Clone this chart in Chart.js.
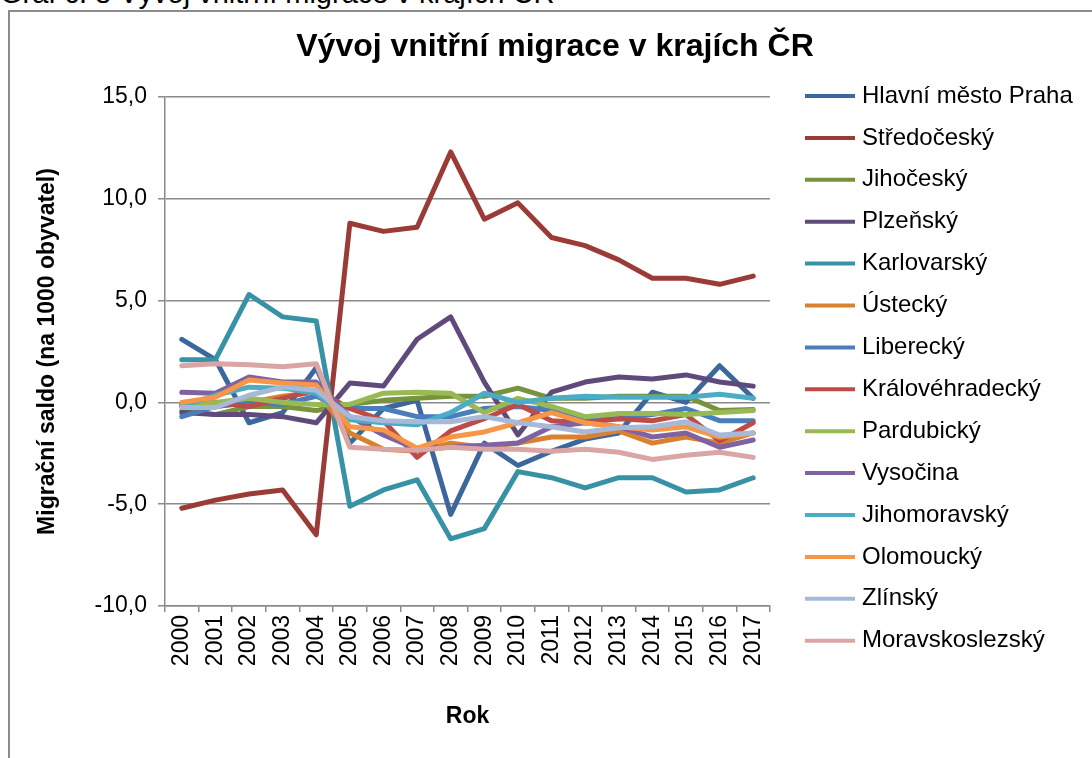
<!DOCTYPE html>
<html>
<head>
<meta charset="utf-8">
<script src="https://cdn.jsdelivr.net/npm/chart.js@4"></script>
<style>
  body { margin: 0; background: #fff; overflow: hidden; }
  #caption { position: absolute; left: 0; top: -23px; font: 29px "Liberation Sans", Arial, sans-serif; white-space: nowrap; }
  #frame { position: absolute; left: 8px; top: 10px; width: 2000px; height: 2000px; border-left: 2px solid #8c8c8c; border-top: 2px solid #8c8c8c; }
  #wrap { position: absolute; left: 0; top: 0; width: 1092px; height: 758px; }
</style>
</head>
<body>
<div id="caption">Graf č. 8 Vývoj vnitřní migrace v krajích ČR</div>
<div id="frame"></div>
<div id="wrap"><canvas id="canvas-migrace"></canvas></div>
<script>
const years = ['2000','2001','2002','2003','2004','2005','2006','2007','2008','2009','2010','2011','2012','2013','2014','2015','2016','2017'];

const regions = ['Hlavní město Praha', 'Středočeský', 'Jihočeský', 'Plzeňský', 'Karlovarský', 'Ústecký', 'Liberecký',
  'Královéhradecký', 'Pardubický', 'Vysočina', 'Jihomoravský', 'Olomoucký', 'Zlínský', 'Moravskoslezský'];

const praha = [3.1, 2.1, -1.0, -0.5, 1.7, -2.0, -0.3, 0.1, -5.5, -2.0, -3.1, -2.4, -1.8, -1.5, 0.5, 0.0, 1.8, 0.2];
const stredocesky = [-5.2, -4.8, -4.5, -4.3, -6.5, 8.8, 8.4, 8.6, 12.3, 9.0, 9.8, 8.1, 7.7, 7.0, 6.1, 6.1, 5.8, 6.2];
const jihocesky = [-0.4, -0.6, -0.2, -0.2, -0.4, -0.1, 0.1, 0.2, 0.3, 0.3, 0.7, 0.2, 0.2, 0.3, 0.3, 0.3, -0.4, -0.35];
const plzensky = [-0.5, -0.6, -0.6, -0.7, -1.0, 0.95, 0.8, 3.1, 4.2, 1.0, -1.6, 0.5, 1.0, 1.25, 1.15, 1.35, 1.0, 0.8];
const karlovarsky = [2.1, 2.1, 5.3, 4.2, 4.0, -5.1, -4.3, -3.8, -6.7, -6.2, -3.4, -3.7, -4.2, -3.7, -3.7, -4.4, -4.3, -3.7];
const ustecky = [-0.1, -0.2, 0.0, 0.3, 0.5, -1.5, -2.3, -2.4, -2.0, -2.2, -2.0, -1.7, -1.7, -1.4, -2.0, -1.7, -2.0, -1.5];
const liberecky = [-0.7, -0.2, 0.0, -0.1, 0.3, -0.3, -0.3, -0.7, -0.7, -0.3, -0.2, -0.4, -0.8, -0.8, -0.6, -0.3, -0.9, -0.9];
const kralovehradecky = [-0.1, 0.0, -0.2, 0.2, 0.6, -0.3, -0.9, -2.7, -1.4, -0.8, -0.1, -0.9, -1.0, -0.8, -0.9, -0.6, -1.9, -1.0];
const pardubicky = [-0.2, 0.0, 0.2, 0.0, -0.1, -0.1, 0.45, 0.5, 0.45, -0.5, 0.2, -0.2, -0.7, -0.55, -0.55, -0.6, -0.5, -0.4];
const vysocina = [0.5, 0.45, 1.25, 1.0, 1.0, -0.7, -1.6, -2.3, -2.2, -2.1, -2.0, -1.2, -1.0, -1.2, -1.7, -1.5, -2.2, -1.85];
const jihomoravsky = [-0.2, 0.35, 0.75, 0.7, 0.45, -0.85, -1.0, -1.1, -0.5, 0.45, 0.0, 0.2, 0.3, 0.25, 0.25, 0.25, 0.4, 0.2];
const olomoucky = [0.0, 0.25, 1.1, 0.95, 0.85, -1.2, -1.35, -2.25, -1.7, -1.45, -1.0, -0.5, -1.0, -1.2, -1.35, -1.2, -1.7, -1.5];
const zlinsky = [-0.25, -0.25, 0.35, 0.75, 0.6, -0.7, -0.9, -0.95, -0.95, -0.7, -1.0, -1.2, -1.45, -1.25, -1.2, -0.95, -1.6, -1.5];
const moravskoslezsky = [1.8, 1.9, 1.85, 1.75, 1.9, -2.2, -2.3, -2.35, -2.2, -2.3, -2.3, -2.4, -2.3, -2.45, -2.8, -2.6, -2.45, -2.7];

const seriesValues = [praha, stredocesky, jihocesky, plzensky, karlovarsky, ustecky, liberecky,
  kralovehradecky, pardubicky, vysocina, jihomoravsky, olomoucky, zlinsky, moravskoslezsky];

const colors = ['#3b679d', '#9b3b37', '#77933c', '#604a7b', '#3892a6', '#d9812f', '#4a7ebb',
  '#be4b48', '#98b954', '#7f63a1', '#4bacc6', '#f79646', '#a6b9d8', '#d9a6a5'];

const chartTitle = 'Vývoj vnitřní migrace v krajích ČR';
const font = '"Liberation Sans", Arial, sans-serif';
const gridGray = '#8a8a8a';

// title + legend drawn by hand: the title is centred over the whole box, the legend rows are fixed
const titleAndLegend = {
  id: 'titleAndLegend',
  afterDraw(chart) {
    const ctx = chart.ctx;
    ctx.save();
    ctx.fillStyle = '#000';
    ctx.textAlign = 'center';
    ctx.textBaseline = 'middle';
    ctx.font = 'bold 32px ' + font;
    ctx.fillText(chartTitle, 555, 47);

    ctx.textAlign = 'left';
    ctx.font = '24px ' + font;
    chart.data.datasets.forEach((ds, i) => {
      const y = 96 + i * 41.9;
      ctx.strokeStyle = ds.borderColor;
      ctx.lineWidth = 4;
      ctx.beginPath();
      ctx.moveTo(805, y);
      ctx.lineTo(855, y);
      ctx.stroke();
      ctx.fillText(ds.label, 862, y);
    });
    ctx.restore();
  }
};

const chartMigrace = document.getElementById('canvas-migrace');

new Chart(chartMigrace, {
  type: 'line',
  data: {
    labels: years,
    datasets: regions.map((name, i) => ({
      label: name,
      data: seriesValues[i],
      borderColor: colors[i],
      backgroundColor: colors[i],
      borderWidth: 5,
      borderJoinStyle: 'round',
      borderCapStyle: 'round',
      pointRadius: 0,
      tension: 0,
      order: regions.length - i
    }))
  },
  options: {
    responsive: true,
    maintainAspectRatio: false,
    animation: false,
    layout: { padding: { left: 10, right: 322, top: 97, bottom: 0 } },
    plugins: {
      legend: { display: false },
      tooltip: { enabled: false },
      title: { display: false }
    },
    scales: {
      x: {
        offset: true,
        afterFit: (scale) => { scale.height = 152; },
        grid: { offset: true, drawOnChartArea: false, color: gridGray, lineWidth: 1.5, tickLength: 6 },
        border: { color: gridGray, width: 1.5 },
        ticks: {
          autoSkip: false, maxRotation: 90, minRotation: 90, padding: 3,
          color: '#000', font: { family: font, size: 23 }
        },
        title: {
          display: true, text: 'Rok', color: '#000',
          font: { family: font, size: 23, weight: 'bold' },
          padding: { top: 0, bottom: 28 }
        }
      },
      y: {
        min: -10,
        max: 15,
        afterFit: (scale) => { scale.width = 155; },
        grid: { color: gridGray, lineWidth: 1.5, tickLength: 7 },
        border: { color: gridGray, width: 1.5 },
        ticks: {
          stepSize: 5, padding: 11, color: '#000',
          font: { family: font, size: 23 },
          callback: (value) => value.toFixed(1).replace('.', ',')
        },
        title: {
          display: true, text: 'Migrační saldo (na 1000 obyvatel)', color: '#000',
          font: { family: font, size: 23, weight: 'bold' },
          padding: { top: 24, bottom: 0 }
        }
      }
    }
  },
  plugins: [titleAndLegend]
});
</script>
</body>
</html>
